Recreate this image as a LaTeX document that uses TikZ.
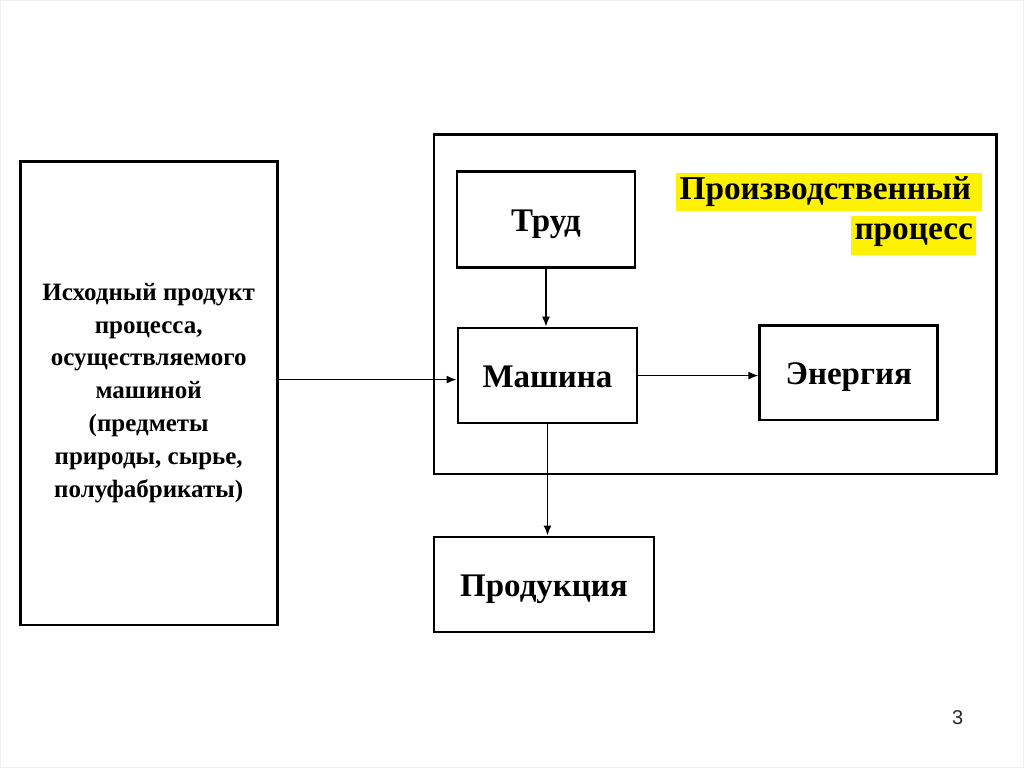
\documentclass[tikz,border=0pt]{standalone}
\usepackage{fontspec}
\setmainfont{Liberation Serif}
\newfontfamily\numfont{Liberation Sans}
\usetikzlibrary{calc, positioning, arrows.meta}

\begin{document}
\begin{tikzpicture}[x=0.75pt,y=-0.75pt,
  box/.style={draw, line width=2.1pt, minimum height=71.25pt, text height=22.3pt, text depth=4.4pt,
    font=\fontsize{24.75}{29}\selectfont\bfseries},
  arr/.style={line width=1.2pt, -{Latex[length=7.5pt,width=6pt]}},
  hl/.style={fill=yellow, inner xsep=2.5pt, inner ysep=0pt, minimum height=29pt, anchor=east, font=\fontsize{25}{29}\selectfont\bfseries}]
\draw[black!6, fill=white] (0,0) rectangle (1024,767);
% the production process
\node[draw, line width=2.1pt, minimum width=422.25pt, minimum height=255pt] (proc) at (715.5,304) {};
\node[hl] (ttl1) at (983,191.7) {Производственный\hspace*{6pt}};
\node[hl] (ttl2) at (976.7,235.5) {процесс};
\node[box, minimum width=133.5pt, minimum height=72pt] (trud) at (546,219) {Труд};
\node[box, minimum width=134.25pt] (mash) at (547.5,375.5) {Машина};
\node[box, minimum width=133.5pt] (energ) at (849,372.5) {Энергия};
\node[box, minimum width=165pt] (prod) at (544,584.5) {Продукция};
% source material
\node[draw, line width=2.1pt, minimum width=192.75pt, minimum height=348pt, align=center,
  font=\fontsize{18.75}{24.75}\selectfont\bfseries] (src) at (148.5,393)
  {Исходный продукт\\процесса,\\осуществляемого\\машиной\\(предметы\\природы, сырье,\\полуфабрикаты)};
\coordinate (in) at ($(mash.west)+(0,4)$);
\draw[arr] (trud.south) -- (trud.south |- mash.north);
\draw[arr] (src.east |- in) -- (in);
\draw[arr] (mash.east) -- (mash.east -| energ.west);
\draw[arr] (mash.south) -- (mash.south |- prod.north);
\node[font=\numfont\fontsize{15}{17}\selectfont, text=black!85] (pg) at (958,718) {3};
\end{tikzpicture}
\end{document}
